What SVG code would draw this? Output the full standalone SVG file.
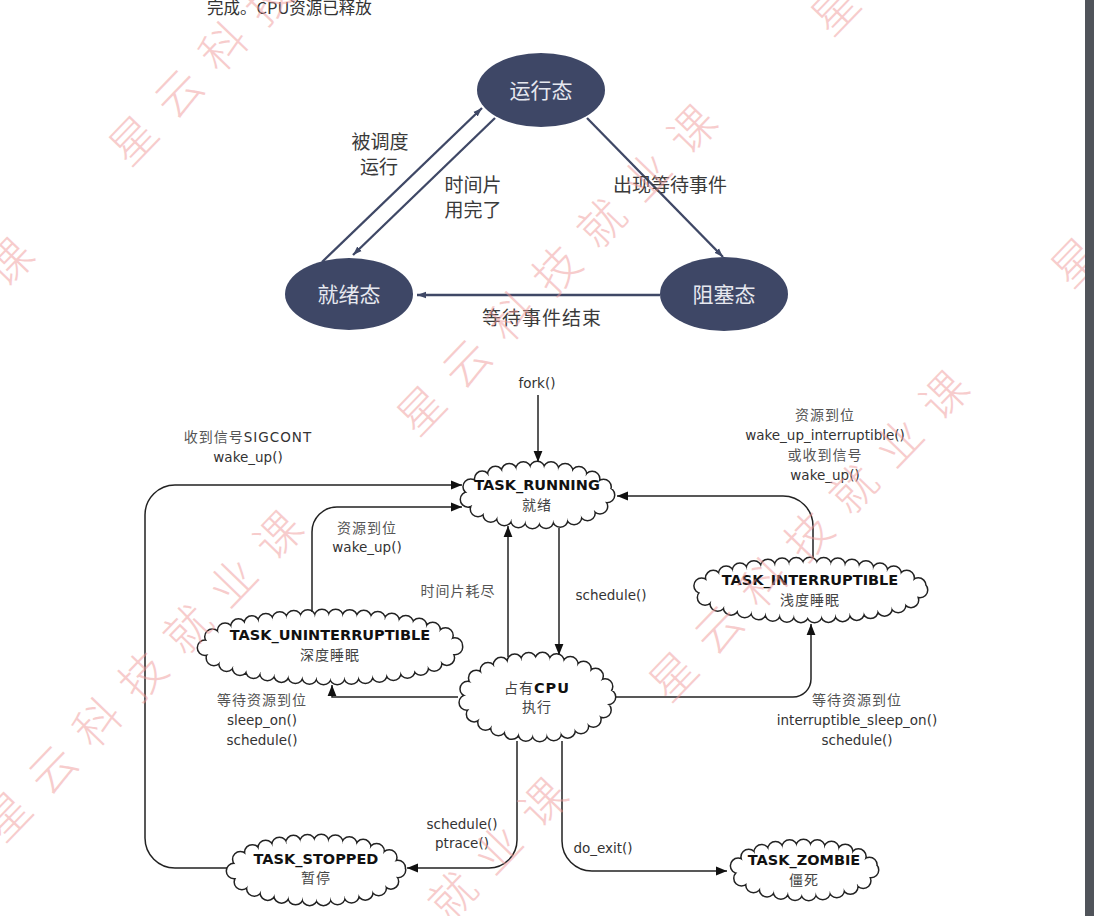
<svg xmlns="http://www.w3.org/2000/svg" width="1094" height="916" viewBox="0 0 1094 916">
<defs>
<style>
.bg{fill:#fff}
.tnode{fill:#3e4766}
.tnt{font-family:"Noto Sans CJK SC","Noto Sans",sans-serif;font-size:21px;fill:#e6e8ef;text-anchor:middle}
.tlab{font-family:"Noto Sans CJK SC","Noto Sans",sans-serif;font-size:19px;fill:#3a3a3a;text-anchor:middle}
.tline{fill:none;stroke:#3f4866;stroke-width:2.3}
.cd1{fill:none;stroke:#222;stroke-width:17;stroke-linecap:round;stroke-dasharray:0 14}
.cd2{fill:none;stroke:#fff;stroke-width:14;stroke-linecap:round;stroke-dasharray:0 14}
.cd3{fill:#fff;stroke:none}
.nm{font-family:"DejaVu Sans",Verdana,sans-serif;font-weight:bold;font-size:14.5px;fill:#111;text-anchor:middle}
.cn{font-family:"Noto Sans CJK SC",sans-serif;font-size:14px;fill:#444;text-anchor:middle;letter-spacing:1px}
.lb{font-family:"DejaVu Sans",Verdana,"Noto Sans CJK SC",sans-serif;font-size:13.5px;fill:#333;text-anchor:middle}
.lc{font-family:"Noto Sans CJK SC",sans-serif;font-size:14px;fill:#555;text-anchor:middle;letter-spacing:1px}
.ln{fill:none;stroke:#222;stroke-width:1.5}
.wm{font-family:"Noto Sans CJK SC",sans-serif;font-weight:300;font-size:46px;fill:#f09a9a;opacity:0.5;letter-spacing:19px}
</style>
<marker id="ah" viewBox="0 0 10 10" refX="10" refY="5" markerWidth="11" markerHeight="11" markerUnits="userSpaceOnUse" orient="auto">
<path d="M0,1 L10,5 L0,9 z" fill="#111"/>
</marker>
<marker id="ahn" viewBox="0 0 10 10" refX="10" refY="5" markerWidth="9" markerHeight="9" markerUnits="userSpaceOnUse" orient="auto">
<path d="M0,1.5 L10,5 L0,8.5 z" fill="#3f4866"/>
</marker>
</defs>
<rect class="bg" x="0" y="0" width="1094" height="916"/>

<text x="207" y="14" font-family="Noto Sans CJK SC, sans-serif" font-size="16.5" fill="#333">完成。CPU资源已释放</text>

<g id="top-nodes">
<g id="node-running-state"><ellipse class="tnode" cx="541" cy="90" rx="64" ry="37"/><text class="tnt" x="541" y="98">运行态</text></g>
<g id="node-ready-state"><ellipse class="tnode" cx="349" cy="294" rx="64" ry="36"/><text class="tnt" x="349" y="302">就绪态</text></g>
<g id="node-blocked-state"><ellipse class="tnode" cx="724" cy="294" rx="64" ry="37"/><text class="tnt" x="724" y="302">阻塞态</text></g>
</g>

<g id="top-connectors">
<path class="tline" d="M322 262 L482 108" marker-end="url(#ahn)"/>
<path class="tline" d="M495 118 L353 255" marker-end="url(#ahn)"/>
<path class="tline" d="M587 118 L723 257" marker-end="url(#ahn)"/>
<path class="tline" d="M660 295 L417 295" marker-end="url(#ahn)"/>
<text class="tlab" x="380" y="149">被调度</text>
<text class="tlab" x="379" y="174">运行</text>
<text class="tlab" x="473" y="192">时间片</text>
<text class="tlab" x="473" y="217">用完了</text>
<text class="tlab" x="670" y="192" font-size="20">出现等待事件</text>
<text class="tlab" x="542" y="325" font-size="20" letter-spacing="1">等待事件结束</text>
</g>

<g id="nodes">
<g id="node-task-running">
<ellipse class="cd1" cx="537" cy="495" rx="70" ry="26"/><ellipse class="cd2" cx="537" cy="495" rx="70" ry="26"/><ellipse class="cd3" cx="537" cy="495" rx="70" ry="26"/>
<text class="nm" x="537" y="490">TASK_RUNNING</text><text class="cn" x="537" y="510">就绪</text>
</g>
<g id="node-task-interruptible">
<ellipse class="cd1" cx="810" cy="590" rx="110" ry="25"/><ellipse class="cd2" cx="810" cy="590" rx="110" ry="25"/><ellipse class="cd3" cx="810" cy="590" rx="110" ry="25"/>
<text class="nm" x="810" y="585">TASK_INTERRUPTIBLE</text><text class="cn" x="810" y="605">浅度睡眠</text>
</g>
<g id="node-task-uninterruptible">
<ellipse class="cd1" cx="330" cy="647" rx="125" ry="30"/><ellipse class="cd2" cx="330" cy="647" rx="125" ry="30"/><ellipse class="cd3" cx="330" cy="647" rx="125" ry="30"/>
<text class="nm" x="330" y="640">TASK_UNINTERRUPTIBLE</text><text class="cn" x="330" y="660">深度睡眠</text>
</g>
<g id="node-cpu">
<ellipse class="cd1" cx="537" cy="697" rx="71" ry="37"/><ellipse class="cd2" cx="537" cy="697" rx="71" ry="37"/><ellipse class="cd3" cx="537" cy="697" rx="71" ry="37"/>
<text class="cn" x="537" y="693" letter-spacing="0">占有<tspan class="nm" font-size="15">CPU</tspan></text><text class="cn" x="537" y="712">执行</text>
</g>
<g id="node-task-stopped">
<ellipse class="cd1" cx="316" cy="870" rx="82" ry="28"/><ellipse class="cd2" cx="316" cy="870" rx="82" ry="28"/><ellipse class="cd3" cx="316" cy="870" rx="82" ry="28"/>
<text class="nm" x="316" y="864">TASK_STOPPED</text><text class="cn" x="316" y="883">暂停</text>
</g>
<g id="node-task-zombie">
<ellipse class="cd1" cx="804" cy="870" rx="67" ry="23"/><ellipse class="cd2" cx="804" cy="870" rx="67" ry="23"/><ellipse class="cd3" cx="804" cy="870" rx="67" ry="23"/>
<text class="nm" x="804" y="865">TASK_ZOMBIE</text><text class="cn" x="804" y="885">僵死</text>
</g>
</g>

<g id="connectors">
<path class="ln" d="M538 395 V462" marker-end="url(#ah)"/>
<path class="ln" d="M227 868 H175 A30 30 0 0 1 145 838 V515 A30 30 0 0 1 175 485 H462" marker-end="url(#ah)"/>
<path class="ln" d="M312 612 V532 A25 25 0 0 1 337 507 H462" marker-end="url(#ah)"/>
<path class="ln" d="M813 557 V526 A30 30 0 0 0 783 496 H617" marker-end="url(#ah)"/>
<path class="ln" d="M559 528 V655" marker-end="url(#ah)"/>
<path class="ln" d="M508 657 V526" marker-end="url(#ah)"/>
<path class="ln" d="M458 697 H332 V685" marker-end="url(#ah)"/>
<path class="ln" d="M615 697 H793 A18 18 0 0 0 811 679 V624" marker-end="url(#ah)"/>
<path class="ln" d="M517 741 V840 A28 28 0 0 1 489 868 H407" marker-end="url(#ah)"/>
<path class="ln" d="M562 741 V841 A30 30 0 0 0 592 871 H727" marker-end="url(#ah)"/>

<text class="lb" x="537" y="388">fork()</text>
<text class="lc" x="248" y="442" letter-spacing="0"><tspan>收到信号</tspan><tspan font-family="DejaVu Sans, sans-serif" font-size="13.5" fill="#333">SIGCONT</tspan></text>
<text class="lb" x="248" y="462">wake_up()</text>
<text class="lc" x="367" y="533">资源到位</text>
<text class="lb" x="367" y="552">wake_up()</text>
<text class="lc" x="825" y="420">资源到位</text>
<text class="lb" x="825" y="440">wake_up_interruptible()</text>
<text class="lc" x="825" y="460">或收到信号</text>
<text class="lb" x="825" y="480">wake_up()</text>
<text class="lc" x="458" y="596">时间片耗尽</text>
<text class="lb" x="611" y="600">schedule()</text>
<text class="lc" x="262" y="705">等待资源到位</text>
<text class="lb" x="262" y="725">sleep_on()</text>
<text class="lb" x="262" y="745">schedule()</text>
<text class="lc" x="857" y="705">等待资源到位</text>
<text class="lb" x="857" y="725">interruptible_sleep_on()</text>
<text class="lb" x="857" y="745">schedule()</text>
<text class="lb" x="462" y="829">schedule()</text>
<text class="lb" x="462" y="848">ptrace()</text>
<text class="lb" x="603" y="853">do_exit()</text>
</g>

<g id="watermark">
<text class="wm" transform="translate(-262,543) rotate(-46)" x="-23" y="17">星云科技就业课</text>
<text class="wm" transform="translate(133,140) rotate(-46)" x="-23" y="17">星云科技就业课</text>
<text class="wm" transform="translate(7,816) rotate(-46)" x="-23" y="17">星云科技就业课</text>
<text class="wm" transform="translate(421,410) rotate(-46)" x="-23" y="17">星云科技就业课</text>
<text class="wm" transform="translate(835,10) rotate(-46)" x="-23" y="17">星云科技就业课</text>
<text class="wm" transform="translate(272,1083) rotate(-46)" x="-23" y="17">星云科技就业课</text>
<text class="wm" transform="translate(673,676) rotate(-46)" x="-23" y="17">星云科技就业课</text>
<text class="wm" transform="translate(1075,262) rotate(-46)" x="-23" y="17">星云科技就业课</text>
</g>

<rect x="1085" y="0" width="9" height="916" fill="#50545a"/>
</svg>
